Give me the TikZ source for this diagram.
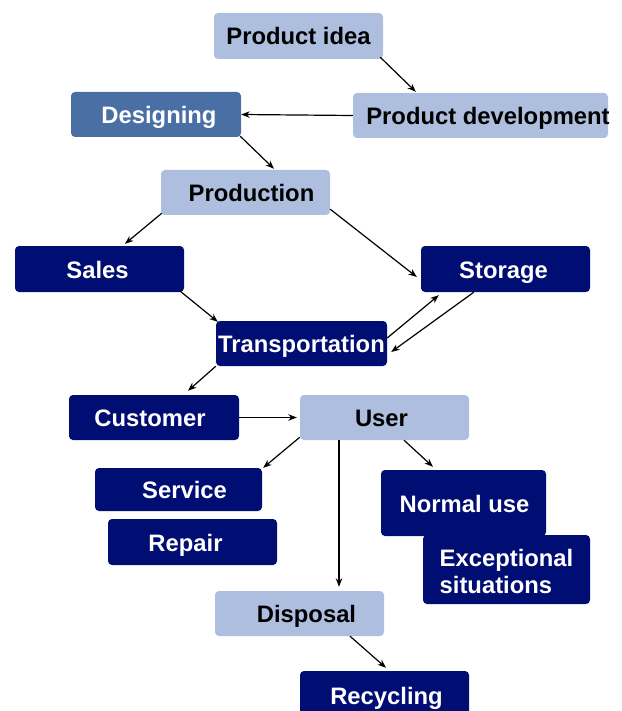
\documentclass[tikz,border=0pt]{standalone}
\usepackage{fontspec}
\setmainfont{Liberation Sans}
\usetikzlibrary{arrows.meta}
\definecolor{paleblue}{HTML}{AEBEDE}
\definecolor{boxnavy}{HTML}{000E73}
\definecolor{steelbox}{HTML}{4A6FA5}
% label shifted sideways inside its box: #1 is twice the shift
\newcommand\shiftlbl[2]{\makebox[0pt]{\hspace*{#1}#2}}
\tikzset{
  box/.style={rectangle, rounded corners=4pt, inner sep=0pt,
    text height=18pt, text depth=0pt,
    font=\fontsize{23.8}{27}\selectfont\bfseries},
  light/.style={box, fill=paleblue, text=black},
  dark/.style={box, fill=boxnavy, text=white},
  mid/.style={box, fill=steelbox, text=white},
  link/.style={-{Stealth[length=8.5pt,width=6.5pt]}, line width=1.2pt},
}
\begin{document}
\begin{tikzpicture}[x=1pt,y=1pt]
\useasboundingbox (0,0) rectangle (621,-711);
\clip (0,0) rectangle (621,-711);

% boxes
\node[light, minimum width=169pt, minimum height=46pt] (idea) at (298.5,-36) {\shiftlbl{0pt}{Product idea}};
\node[light, minimum width=255pt, minimum height=45pt] (dev) at (480.5,-115.5) {\shiftlbl{15pt}{Product development}};
\node[mid, minimum width=170pt, minimum height=45pt] (design) at (156,-114.5) {\shiftlbl{6pt}{Designing}};
\node[light, minimum width=169pt, minimum height=45pt] (prod) at (245.5,-192.5) {\shiftlbl{12pt}{Production}};
\node[dark, minimum width=169pt, minimum height=46pt] (sales) at (99.5,-269) {\shiftlbl{-4pt}{Sales}};
\node[dark, minimum width=169pt, minimum height=46pt] (storage) at (505.5,-269) {\shiftlbl{-4pt}{Storage}};
\node[dark, minimum width=171pt, minimum height=45pt] (trans) at (301.5,-343.5) {\shiftlbl{0pt}{Transportation}};
\node[dark, minimum width=170pt, minimum height=45pt] (customer) at (154,-417.5) {\shiftlbl{-8pt}{Customer}};
\node[light, minimum width=169pt, minimum height=45pt] (user) at (384.5,-417.5) {\shiftlbl{-6pt}{User}};
\node[dark, minimum width=167pt, minimum height=43pt] (service) at (178.5,-489.5) {\shiftlbl{12pt}{Service}};
\node[dark, minimum width=169pt, minimum height=46pt] (repair) at (192.5,-542) {\shiftlbl{-14pt}{Repair}};
\node[dark, minimum width=165pt, minimum height=66pt] (normal) at (463.5,-503) {\shiftlbl{2pt}{Normal use}};
\node[dark, minimum width=167pt, minimum height=69pt, align=left, text height=47pt, text depth=0pt] (except) at (506.5,-569.5) {Exceptional\\situations};
\node[light, minimum width=169pt, minimum height=45pt] (disposal) at (299.5,-613.5) {\shiftlbl{14pt}{Disposal}};
\node[dark, minimum width=169pt, minimum height=48pt] (recycling) at (384.5,-695) {\shiftlbl{4pt}{Recycling}};

% connectors
\draw[link] ([xshift=-3pt,yshift=2pt]idea.south east) -- ([xshift=63pt,yshift=1pt]dev.north west);
\draw[link] (dev.west) -- (design.east);
\draw[link] ([xshift=-1pt,yshift=1pt]design.south east) -- ([xshift=28.5pt,yshift=1pt]prod.north);
\draw[link] ([xshift=1pt,yshift=2pt]prod.south west) -- ([xshift=25.5pt,yshift=2pt]sales.north);
\draw[link] ([yshift=6pt]prod.south east) -- ([xshift=-4pt,yshift=-8pt]storage.west);
\draw[link] ([xshift=-4pt,yshift=1pt]sales.south east) -- ([xshift=2pt,yshift=-1pt]trans.north west);
\draw[link] ([yshift=5.5pt]trans.east) -- ([xshift=18pt,yshift=-3pt]storage.south west);
\draw[link] ([xshift=53pt]storage.south west) -- ([xshift=4pt,yshift=-8.5pt]trans.east);
\draw[link] (trans.south west) -- ([xshift=34pt,yshift=4pt]customer.north);
\draw[link] (customer.east) -- ([xshift=-3pt]user.west);
\draw[link] ([yshift=3pt]user.south west) -- ([xshift=1pt]service.north east);
\draw[link] ([xshift=-45.5pt]user.south) -- ([xshift=39.5pt,yshift=4pt]disposal.north);
\draw[link] ([xshift=19.5pt]user.south) -- ([xshift=-30.5pt,yshift=3pt]normal.north);
\draw[link] ([xshift=50.5pt]disposal.south) -- ([xshift=1.5pt,yshift=3pt]recycling.north);
\end{tikzpicture}
\end{document}
